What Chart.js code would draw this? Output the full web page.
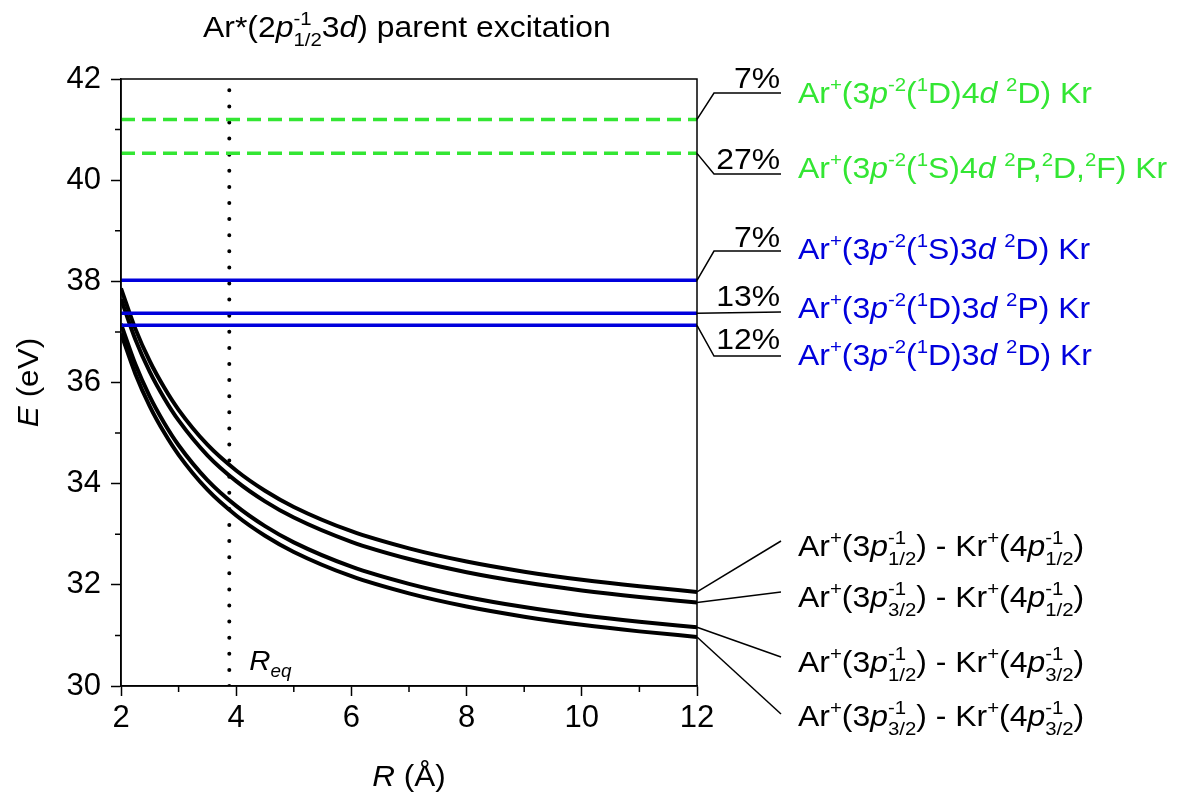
<!DOCTYPE html>
<html>
<head>
<meta charset="utf-8">
<script src="https://cdn.jsdelivr.net/npm/chart.js@4.4.1/dist/chart.umd.min.js"></script>
<style>
  html, body { margin: 0; padding: 0; background: #ffffff; }
  #wrap { width: 1183px; height: 812px; position: relative; }
</style>
</head>
<body>
<div id="wrap"><canvas id="c" width="1183" height="812"></canvas></div>
<script>
// ---------------- data ----------------
const R = [2, 2.25, 2.5, 2.75, 3, 3.5, 4, 4.5, 5, 6, 7, 8, 9, 10, 11, 12];
const E_p12_k12 = [37.86, 37.06, 36.42, 35.90, 35.46, 34.77, 34.26, 33.86, 33.54, 33.06, 32.72, 32.46, 32.26, 32.10, 31.97, 31.86];
const E_p32_k12 = [37.65, 36.85, 36.21, 35.69, 35.25, 34.56, 34.05, 33.65, 33.33, 32.85, 32.51, 32.25, 32.05, 31.89, 31.76, 31.65];
const E_p12_k32 = [37.16, 36.36, 35.72, 35.20, 34.76, 34.07, 33.56, 33.16, 32.84, 32.36, 32.02, 31.76, 31.56, 31.40, 31.27, 31.16];
const E_p32_k32 = [36.97, 36.17, 35.53, 35.01, 34.57, 33.88, 33.37, 32.97, 32.65, 32.17, 31.83, 31.57, 31.37, 31.21, 31.08, 30.97];
const levelsGreen = [41.20, 40.53];
const levelsBlue = [38.02, 37.37, 37.13];
const pctGreen = ['7%', '27%'];
const pctBlue = ['7%', '13%', '12%'];
const R_eq = 3.88;
const xRange = [2, 12];
const yRange = [30, 42];
const xTicks = [2, 4, 6, 8, 10, 12];
const yTicks = [30, 32, 34, 36, 38, 40, 42];

// label texts (rich text parts)
const labelsGreen = [
  ['Ar', {sup:'+'}, '(3', {i:'p'}, {sup:'-2'}, '(', {sup:'1'}, 'D)4', {i:'d'}, ' ', {sup:'2'}, 'D) Kr'],
  ['Ar', {sup:'+'}, '(3', {i:'p'}, {sup:'-2'}, '(', {sup:'1'}, 'S)4', {i:'d'}, ' ', {sup:'2'}, 'P,', {sup:'2'}, 'D,', {sup:'2'}, 'F) Kr']
];
const labelsBlue = [
  ['Ar', {sup:'+'}, '(3', {i:'p'}, {sup:'-2'}, '(', {sup:'1'}, 'S)3', {i:'d'}, ' ', {sup:'2'}, 'D) Kr'],
  ['Ar', {sup:'+'}, '(3', {i:'p'}, {sup:'-2'}, '(', {sup:'1'}, 'D)3', {i:'d'}, ' ', {sup:'2'}, 'P) Kr'],
  ['Ar', {sup:'+'}, '(3', {i:'p'}, {sup:'-2'}, '(', {sup:'1'}, 'D)3', {i:'d'}, ' ', {sup:'2'}, 'D) Kr']
];
const labelsCurves = [
  ['Ar', {sup:'+'}, '(3', {i:'p'}, {ss:['-1','1/2']}, ') - Kr', {sup:'+'}, '(4', {i:'p'}, {ss:['-1','1/2']}, ')'],
  ['Ar', {sup:'+'}, '(3', {i:'p'}, {ss:['-1','3/2']}, ') - Kr', {sup:'+'}, '(4', {i:'p'}, {ss:['-1','1/2']}, ')'],
  ['Ar', {sup:'+'}, '(3', {i:'p'}, {ss:['-1','1/2']}, ') - Kr', {sup:'+'}, '(4', {i:'p'}, {ss:['-1','3/2']}, ')'],
  ['Ar', {sup:'+'}, '(3', {i:'p'}, {ss:['-1','3/2']}, ') - Kr', {sup:'+'}, '(4', {i:'p'}, {ss:['-1','3/2']}, ')']
];
const titleParts = ['Ar*(2', {i:'p'}, {ss:['-1','1/2']}, '3', {i:'d'}, ') parent excitation'];

// ---------------- styling ----------------
const GREEN = '#33e633';
const BLUE = '#0000dc';
const FONT = '"Liberation Sans", Arial, Helvetica, sans-serif';

function f(style, px) { return `${style} ${px}px ${FONT}`; }

function buildSegs(ctx, parts, size) {
  const segs = [];
  const small = size * 0.64;
  for (const p of parts) {
    if (typeof p === 'string') {
      ctx.font = f('normal', size);
      segs.push({items:[{t:p, font:ctx.font, dy:0}], adv:ctx.measureText(p).width});
    } else if (p.i !== undefined && p.sub === undefined) {
      ctx.font = f('italic', size);
      segs.push({items:[{t:p.i, font:ctx.font, dy:0}], adv:ctx.measureText(p.i).width});
    } else if (p.sup !== undefined) {
      ctx.font = f('normal', small);
      segs.push({items:[{t:p.sup, font:ctx.font, dy:-size*0.40}], adv:ctx.measureText(p.sup).width});
    } else if (p.sub !== undefined) {
      ctx.font = f(p.i ? 'italic' : 'normal', small);
      segs.push({items:[{t:p.sub, font:ctx.font, dy:size*0.25}], adv:ctx.measureText(p.sub).width});
    } else if (p.ss) {
      ctx.font = f('normal', small);
      const w1 = ctx.measureText(p.ss[0]).width, w2 = ctx.measureText(p.ss[1]).width;
      segs.push({items:[{t:p.ss[0], font:ctx.font, dy:-size*0.40}, {t:p.ss[1], font:ctx.font, dy:size*0.30}], adv:Math.max(w1, w2)});
    }
  }
  return segs;
}
function drawRich(ctx, parts, x, y, size, color, align, sx) {
  sx = sx || 1;
  ctx.save();
  const segs = buildSegs(ctx, parts, size);
  const total = segs.reduce((a, s) => a + s.adv, 0) * sx;
  let x0 = x;
  if (align === 'center') x0 = x - total / 2;
  else if (align === 'right') x0 = x - total;
  ctx.translate(x0, y);
  ctx.scale(sx, 1);
  ctx.fillStyle = color;
  ctx.textBaseline = 'alphabetic';
  ctx.textAlign = 'left';
  let cx = 0;
  for (const s of segs) {
    for (const it of s.items) { ctx.font = it.font; ctx.fillText(it.t, cx, it.dy); }
    cx += s.adv;
  }
  ctx.restore();
}

// annotation layout (pixel layout of leaders/labels)
const leaderGreenY = [93, 174], pctGreenY = [88, 169], labGreenY = [103, 178];
const leaderBlueY = [251, 312, 356], pctBlueY = [247, 306, 349], labBlueY = [259, 318, 365];
const leaderCurveY = [541, 592, 657, 714], labCurveY = [556, 607, 672, 726];
const SX = 1.1;

const annotPlugin = {
  id: 'annot',
  afterDraw(chart) {
    const ctx = chart.ctx, a = chart.chartArea;
    const xs = chart.scales.x, ys = chart.scales.y;
    ctx.save();
    // frame
    ctx.strokeStyle = '#000'; ctx.lineWidth = 1.5;
    ctx.strokeRect(a.left, a.top, a.right - a.left, a.bottom - a.top);
    // minor ticks
    ctx.beginPath();
    for (let v = xRange[0] + 1; v < xRange[1]; v += 2) {
      const px = xs.getPixelForValue(v);
      ctx.moveTo(px, a.bottom); ctx.lineTo(px, a.bottom + 6);
    }
    for (let v = yRange[0] + 1; v < yRange[1]; v += 2) {
      const py = ys.getPixelForValue(v);
      ctx.moveTo(a.left, py); ctx.lineTo(a.left - 6, py);
    }
    ctx.stroke();

    const xr = a.right;
    ctx.lineWidth = 1.5;
    function leader(y0, yl, bend) {
      ctx.beginPath();
      ctx.moveTo(xr, y0);
      if (bend) ctx.lineTo(xr + 17, yl);
      ctx.lineTo(xr + 84, yl);
      ctx.stroke();
    }
    levelsGreen.forEach((v, i) => {
      const y0 = ys.getPixelForValue(v);
      leader(y0, leaderGreenY[i], true);
      drawRich(ctx, [pctGreen[i]], xr + 83, pctGreenY[i], 29, '#000', 'right', SX);
      drawRich(ctx, labelsGreen[i], xr + 101, labGreenY[i], 29, GREEN, 'left', SX);
    });
    levelsBlue.forEach((v, i) => {
      const y0 = ys.getPixelForValue(v);
      leader(y0, leaderBlueY[i], Math.abs(y0 - leaderBlueY[i]) > 2);
      drawRich(ctx, [pctBlue[i]], xr + 83, pctBlueY[i], 29, '#000', 'right', SX);
      drawRich(ctx, labelsBlue[i], xr + 101, labBlueY[i], 29, BLUE, 'left', SX);
    });
    const ends = [E_p12_k12, E_p32_k12, E_p12_k32, E_p32_k32].map(s => s[s.length - 1]);
    ends.forEach((v, i) => {
      const y0 = ys.getPixelForValue(v);
      ctx.beginPath(); ctx.moveTo(xr, y0); ctx.lineTo(xr + 84, leaderCurveY[i]); ctx.stroke();
      drawRich(ctx, labelsCurves[i], xr + 101, labCurveY[i], 29, '#000', 'left', SX);
    });

    // R_eq label
    drawRich(ctx, [{i:'R'}, {sub:'eq', i:true}], xs.getPixelForValue(R_eq) + 20, 670, 28, '#000', 'left', 1.05);
    // title
    drawRich(ctx, titleParts, 203, 37, 29, '#000', 'left', SX);
    // axis titles
    drawRich(ctx, [{i:'R'}, ' (Å)'], (a.left + a.right) / 2, 786, 30, '#000', 'center', 1.05);
    ctx.save();
    ctx.translate(38, (a.top + a.bottom) / 2);
    ctx.rotate(-Math.PI / 2);
    drawRich(ctx, [{i:'E'}, ' (eV)'], 0, 0, 30, '#000', 'center', 1.05);
    ctx.restore();
    ctx.restore();
  }
};

function curve(ys) { return R.map((r, i) => ({x: r, y: ys[i]})); }
function level(v) { return [{x: xRange[0], y: v}, {x: xRange[1], y: v}]; }

const datasets = [];
levelsGreen.forEach(v => datasets.push({data: level(v), borderColor: GREEN, borderWidth: 3.5, borderDash: [14, 7]}));
levelsBlue.forEach(v => datasets.push({data: level(v), borderColor: BLUE, borderWidth: 3.5}));
datasets.push({data: [{x: R_eq, y: yRange[0]}, {x: R_eq, y: yRange[1]}], borderColor: '#000', borderWidth: 4, borderDash: [0, 16.1], borderCapStyle: 'round'});
[E_p12_k12, E_p32_k12, E_p12_k32, E_p32_k32].forEach(s => datasets.push({data: curve(s), borderColor: '#000', borderWidth: 4, cubicInterpolationMode: 'monotone'}));

new Chart(document.getElementById('c'), {
  type: 'line',
  data: {datasets},
  options: {
    responsive: false,
    animation: false,
    devicePixelRatio: 1,
    elements: {point: {radius: 0}, line: {fill: false}},
    layout: {padding: {left: 0, top: 79, right: 486, bottom: 0}},
    plugins: {legend: {display: false}, tooltip: {enabled: false}, title: {display: false}},
    scales: {
      x: {
        type: 'linear', min: xRange[0], max: xRange[1],
        afterBuildTicks(s) { s.ticks = xTicks.map(v => ({value: v})); },
        afterFit(s) { s.height = 126; },
        ticks: {color: '#000', font: {size: 31, family: FONT}, padding: 4, maxRotation: 0},
        grid: {drawOnChartArea: false, drawTicks: true, tickLength: 10, tickColor: '#000', tickWidth: 1.5},
        border: {display: true, color: '#000', width: 1.5}
      },
      y: {
        type: 'linear', min: yRange[0], max: yRange[1],
        afterBuildTicks(s) { s.ticks = yTicks.map(v => ({value: v})); },
        afterFit(s) { s.width = 121; },
        ticks: {color: '#000', font: {size: 31, family: FONT}, padding: 10},
        grid: {drawOnChartArea: false, drawTicks: true, tickLength: 10, tickColor: '#000', tickWidth: 1.5},
        border: {display: true, color: '#000', width: 1.5}
      }
    }
  },
  plugins: [annotPlugin]
});
</script>
</body>
</html>
